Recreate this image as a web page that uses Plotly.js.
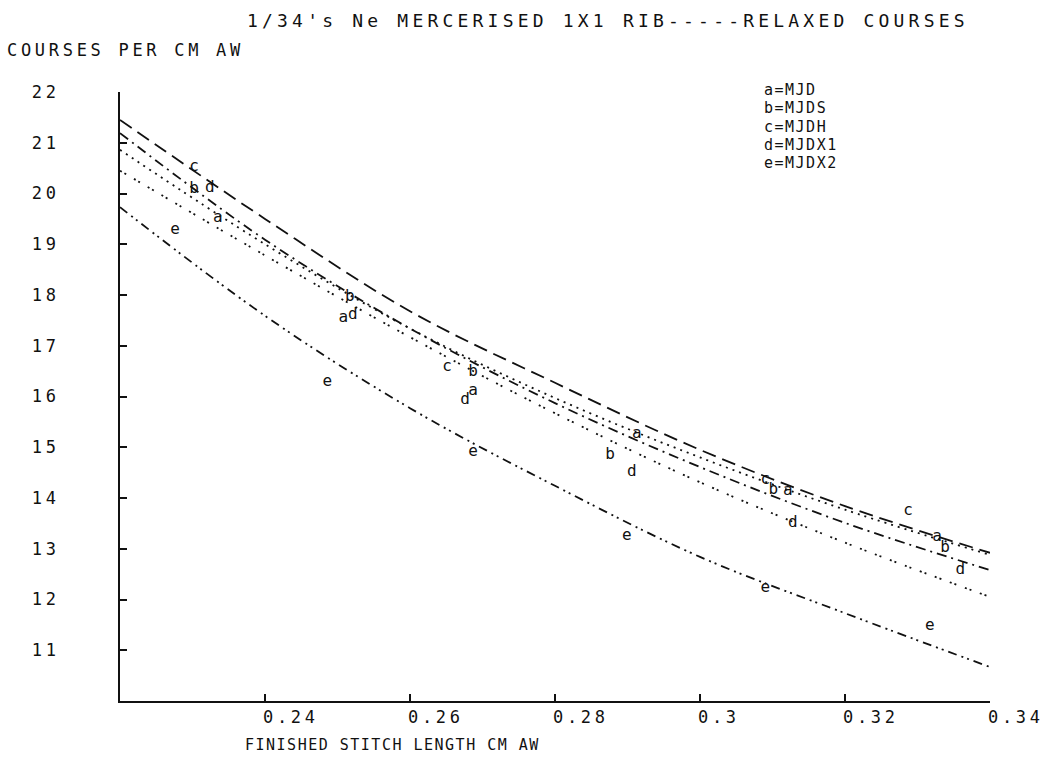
<!DOCTYPE html>
<html>
<head>
<meta charset="utf-8">
<script src="https://cdn.plot.ly/plotly-3.0.1.min.js"></script>
<style>
  html, body { margin: 0; padding: 0; background: #fff; }
  #chart { width: 1051px; height: 767px; }
  svg text[style*="font-size: 18px"] { letter-spacing: 4.2px; }
  svg text[style*="font-size: 17px"] { letter-spacing: 3.7px; }
  svg text[style*="font-size: 15px"] { letter-spacing: 1.5px; }
</style>
</head>
<body>
<div id="chart"></div>
<script>
// ---- data ----
const curveX = [0.22, 0.24, 0.26, 0.28, 0.30, 0.32, 0.34];
const curveA = [20.86, 19.00, 17.34, 15.97, 14.80, 13.77, 12.88]; // MJD
const curveB = [21.19, 19.09, 17.34, 15.87, 14.61, 13.51, 12.58]; // MJDS
const curveC = [21.45, 19.50, 17.68, 16.27, 14.95, 13.84, 12.92]; // MJDH
const curveD = [20.45, 18.78, 17.17, 15.67, 14.31, 13.12, 12.05]; // MJDX1
const curveE = [19.73, 17.59, 15.77, 14.24, 12.84, 11.73, 10.67]; // MJDX2

const ptsAx = [0.2335, 0.2508, 0.2687, 0.2913, 0.3121, 0.3327];
const ptsAy = [19.52, 17.55, 16.10, 15.26, 14.14, 13.23];
const ptsBx = [0.2302, 0.2517, 0.2687, 0.2876, 0.3101, 0.3338];
const ptsBy = [20.09, 17.96, 16.48, 14.85, 14.16, 13.01];
const ptsCx = [0.2302, 0.2651, 0.3090, 0.3287];
const ptsCy = [20.52, 16.58, 14.35, 13.74];
const ptsDx = [0.2324, 0.2521, 0.2676, 0.2906, 0.3128, 0.3359];
const ptsDy = [20.11, 17.61, 15.93, 14.51, 13.51, 12.58];
const ptsEx = [0.2276, 0.2486, 0.2687, 0.2899, 0.3090, 0.3317];
const ptsEy = [19.28, 16.29, 14.91, 13.25, 12.23, 11.48];

const seriesLetters = ['a', 'b', 'c', 'd', 'e'];
const seriesNames = ['MJD', 'MJDS', 'MJDH', 'MJDX1', 'MJDX2'];
const xTicks = [0.24, 0.26, 0.28, 0.30, 0.32, 0.34];
const xTickText = ['0.24', '0.26', '0.28', '0.3', '0.32', '0.34'];
const yTicks = [11, 12, 13, 14, 15, 16, 17, 18, 19, 20, 21, 22];

const titleText = "1/34's Ne MERCERISED 1X1 RIB-----RELAXED COURSES";
const yTitleText = 'COURSES PER CM AW';
const xTitleText = 'FINISHED STITCH LENGTH CM AW';

// ---- styling ----
const FONT = 'DejaVu Sans Mono, Liberation Mono, monospace';
const INK = '#111';
const dashes = {
  a: '2px,5px',
  b: '10px,5px,2px,5px',
  c: '14px,7px',
  d: '2px,3px,2px,9px',
  e: '9px,5px,2px,4px,2px,5px'
};

const curves = [curveA, curveB, curveC, curveD, curveE];
const ptsX = [ptsAx, ptsBx, ptsCx, ptsDx, ptsEx];
const ptsY = [ptsAy, ptsBy, ptsCy, ptsDy, ptsEy];

const traces = [];
seriesLetters.forEach((L, i) => {
  traces.push({
    type: 'scatter', mode: 'lines', x: curveX, y: curves[i],
    line: { color: INK, width: 1.8, dash: dashes[L], shape: 'spline', smoothing: 1 },
    hoverinfo: 'skip', showlegend: false
  });
});
seriesLetters.forEach((L, i) => {
  traces.push({
    type: 'scatter', mode: 'text', x: ptsX[i], y: ptsY[i],
    text: ptsX[i].map(() => L), textposition: 'middle center',
    textfont: { family: FONT, size: 16, color: INK },
    hoverinfo: 'skip', showlegend: false
  });
});

const annotations = [
  { text: titleText, xref: 'paper', yref: 'paper', x: 0.144, y: 1.118, xanchor: 'left', yanchor: 'middle', showarrow: false, font: { family: FONT, size: 18, color: INK } },
  { text: yTitleText, xref: 'paper', yref: 'paper', x: -0.132, y: 1.069, xanchor: 'left', yanchor: 'middle', showarrow: false, font: { family: FONT, size: 17, color: INK } },
  { text: xTitleText, xref: 'paper', yref: 'paper', x: 0.141, y: -0.072, xanchor: 'left', yanchor: 'middle', showarrow: false, font: { family: FONT, size: 15, color: INK } }
];
seriesLetters.forEach((L, i) => {
  annotations.push({
    text: L + '=' + seriesNames[i], xref: 'paper', yref: 'paper',
    x: 0.738, y: (701 - (90 + i * 18.3)) / 609, xanchor: 'left', yanchor: 'middle',
    showarrow: false, font: { family: FONT, size: 15, color: INK }
  });
});

const layout = {
  width: 1051, height: 767,
  margin: { l: 120, r: 61, t: 92, b: 66 },
  paper_bgcolor: '#fff', plot_bgcolor: '#fff',
  showlegend: false,
  xaxis: {
    range: [0.22, 0.34], showgrid: false, zeroline: false,
    showline: true, linecolor: INK, linewidth: 2,
    tickmode: 'array', tickvals: xTicks, ticktext: xTickText,
    ticks: 'inside', ticklen: 7, tickwidth: 2, tickcolor: INK,
    ticklabelposition: 'outside right', ticklabelshift: -4,
    tickfont: { family: FONT, size: 17, color: INK }
  },
  yaxis: {
    range: [10, 22], showgrid: false, zeroline: false,
    showline: true, linecolor: INK, linewidth: 2,
    tickmode: 'array', tickvals: yTicks,
    ticks: 'inside', ticklen: 7, tickwidth: 2, tickcolor: INK,
    ticklabelstandoff: 55,
    tickfont: { family: FONT, size: 17, color: INK }
  },
  annotations: annotations
};

Plotly.newPlot('chart', traces, layout, { displayModeBar: false, staticPlot: true });
</script>
</body>
</html>
